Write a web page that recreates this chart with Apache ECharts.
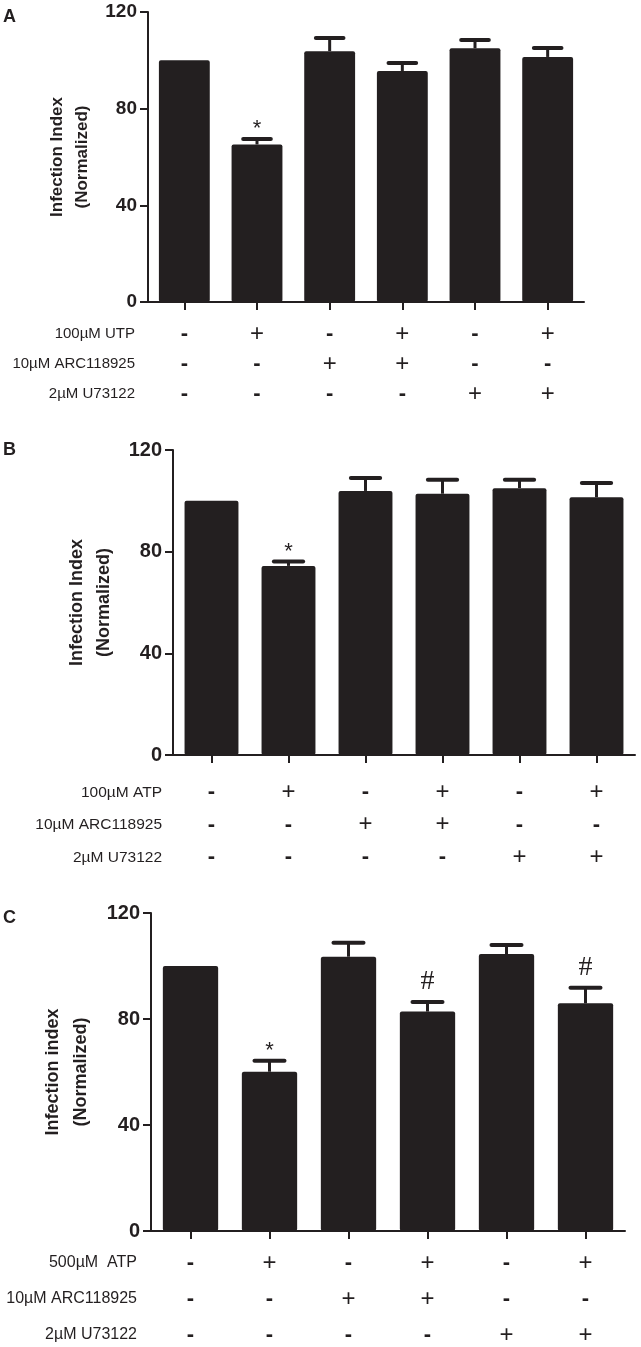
<!DOCTYPE html>
<html>
<head>
<meta charset="utf-8">
<script src="https://cdn.jsdelivr.net/npm/echarts@6/dist/echarts.min.js"></script>
<style>
html,body{margin:0;padding:0;background:#fff;}
#chart{width:641px;height:1347px;}
</style>
</head>
<body>
<div id="chart"></div>
<script>
// ---- Data ----
const categories = ['1','2','3','4','5','6'];

const panelLetters = ['A','B','C'];
const yAxisNames = ['Infection Index\n(Normalized)','Infection Index\n(Normalized)','Infection index\n(Normalized)'];
const yTicks = [0, 40, 80, 120];

const meansA = [100, 65.2, 103.8, 95.6, 105, 101.4];
const errsA  = [0, 2.2, 5.4, 3.3, 3.4, 3.7];
const marksA = ['', '*', '', '', '', ''];
const rowNamesA = ['100\u00b5M UTP', '10\u00b5M ARC118925', '2\u00b5M U73122'];
const signsA = [
  ['-','+','-','+','-','+'],
  ['-','-','+','+','-','-'],
  ['-','-','-','-','+','+']
];

const meansB = [100, 74.4, 103.9, 102.8, 105, 101.4];
const errsB  = [0, 1.7, 5.1, 5.5, 3.3, 5.6];
const marksB = ['', '*', '', '', '', ''];
const rowNamesB = ['100\u00b5M ATP', '10\u00b5M ARC118925', '2\u00b5M U73122'];
const signsB = [
  ['-','+','-','+','-','+'],
  ['-','-','+','+','-','-'],
  ['-','-','-','-','+','+']
];

const meansC = [100, 60.1, 103.5, 82.8, 104.5, 85.9];
const errsC  = [0, 4.1, 5.3, 3.6, 3.4, 5.9];
const marksC = ['', '*', '', '#', '', '#'];
const rowNamesC = ['500\u00b5M  ATP', '10\u00b5M ARC118925', '2\u00b5M U73122'];
const signsC = [
  ['-','+','-','+','-','+'],
  ['-','-','+','+','-','-'],
  ['-','-','-','-','+','+']
];

// ---- Layout / style ----
const INK = '#231f20';
const FONT = '"Liberation Sans", Arial, sans-serif';
const layouts = [
  {left:148, top:12,  width:436, height:290, tickFont:19, nameFont:17, nameLH:25, nameGap:52, lblMargin:17, lblLH:30, rowRight:135, rowFont:15, letterTop:8},
  {left:173, top:450, width:462, height:305, tickFont:20, nameFont:18, nameLH:27, nameGap:50, lblMargin:21, lblLH:32.5, rowRight:162, rowFont:15.5, letterTop:441},
  {left:151, top:913, width:474, height:318, tickFont:20, nameFont:18, nameLH:28, nameGap:56, lblMargin:14, lblLH:36, rowRight:137, rowFont:16, letterTop:909}
];
const panels = [
  {means:meansA, errs:errsA, marks:marksA, rows:rowNamesA, signs:signsA},
  {means:meansB, errs:errsB, marks:marksB, rows:rowNamesB, signs:signsB},
  {means:meansC, errs:errsC, marks:marksC, rows:rowNamesC, signs:signsC}
];

const grid = [], xAxis = [], yAxis = [], series = [], graphic = [];

panels.forEach((p, k) => {
  const L = layouts[k];
  grid.push({left:L.left, top:L.top, width:L.width, height:L.height, containLabel:false, outerBoundsMode:'none'});
  xAxis.push({
    type:'category', gridIndex:k, data:categories,
    axisLine:{show:true, onZero:false, lineStyle:{color:INK, width:2}},
    axisTick:{show:true, alignWithLabel:true, length:8, lineStyle:{color:INK, width:2}},
    axisLabel:{
      margin:L.lblMargin, color:INK, fontFamily:FONT, fontSize:20, lineHeight:L.lblLH,
      formatter:(v, i) => p.signs.map(r => r[i] === '+' ? '{p|+}' : '{m|-}').join('\n'),
      rich:{
        p:{fontFamily:FONT, fontSize:24, lineHeight:L.lblLH, color:INK},
        m:{fontFamily:FONT, fontSize:22, fontWeight:'bold', lineHeight:L.lblLH, color:INK}
      }
    }
  });
  yAxis.push({
    type:'value', gridIndex:k, min:0, max:120, interval:40,
    name:yAxisNames[k], nameLocation:'middle', nameGap:L.nameGap, nameRotate:90,
    nameTextStyle:{color:INK, fontFamily:FONT, fontWeight:'bold', fontSize:L.nameFont, lineHeight:L.nameLH},
    axisLine:{show:true, lineStyle:{color:INK, width:2}},
    axisTick:{show:true, length:8, lineStyle:{color:INK, width:2}},
    splitLine:{show:false},
    axisLabel:{color:INK, fontFamily:FONT, fontWeight:'bold', fontSize:L.tickFont, margin:11,
      formatter:v => yTicks.includes(v) ? String(v) : ''}
  });
  series.push({
    type:'bar', xAxisIndex:k, yAxisIndex:k, data:p.means, barWidth:'70%',
    itemStyle:{color:INK, borderRadius:2}, animation:false, z:2
  });
  series.push({
    type:'custom', xAxisIndex:k, yAxisIndex:k, animation:false, z:3,
    data:p.means.map((m, i) => [i, m, p.errs[i]]),
    renderItem:(params, api) => {
      const i = api.value(0), m = api.value(1), e = api.value(2);
      const base = api.coord([i, m]);
      const top = api.coord([i, m + e]);
      const bw = api.size([1, 0])[0];
      const half = bw * 0.19;
      const children = [];
      if (e > 0) {
        children.push({type:'line', shape:{x1:base[0], y1:base[1], x2:top[0], y2:top[1]},
          style:{stroke:INK, lineWidth:3}});
        children.push({type:'line', shape:{x1:top[0]-half, y1:top[1], x2:top[0]+half, y2:top[1]},
          style:{stroke:INK, lineWidth:4, lineCap:'round'}});
      }
      const mk = p.marks[params.dataIndex];
      if (mk === '*') {
        children.push({type:'text', x:top[0], y:top[1]+1,
          style:{text:'*', fill:INK, font:'22px ' + FONT, align:'center', verticalAlign:'bottom'}});
      } else if (mk === '#') {
        children.push({type:'text', x:top[0], y:top[1]-6,
          style:{text:'#', fill:INK, font:'28px "Liberation Serif", "Times New Roman", serif', align:'center', verticalAlign:'bottom'}});
      }
      return {type:'group', children:children};
    }
  });
  // panel letter
  graphic.push({type:'text', left:3, top:L.letterTop,
    style:{text:panelLetters[k], fill:INK, font:'bold 18px ' + FONT}});
  // treatment row names
  p.rows.forEach((r, j) => {
    const y = L.top + L.height + L.lblMargin + L.lblLH * (j + 0.5);
    graphic.push({type:'text', x:L.rowRight, y:y,
      style:{text:r, fill:INK, font:L.rowFont + 'px ' + FONT, align:'right', verticalAlign:'middle'}});
  });
});

const chart = echarts.init(document.getElementById('chart'), null, {renderer:'canvas'});
chart.setOption({
  animation:false,
  backgroundColor:'#ffffff',
  grid, xAxis, yAxis, series, graphic
});
</script>
</body>
</html>
